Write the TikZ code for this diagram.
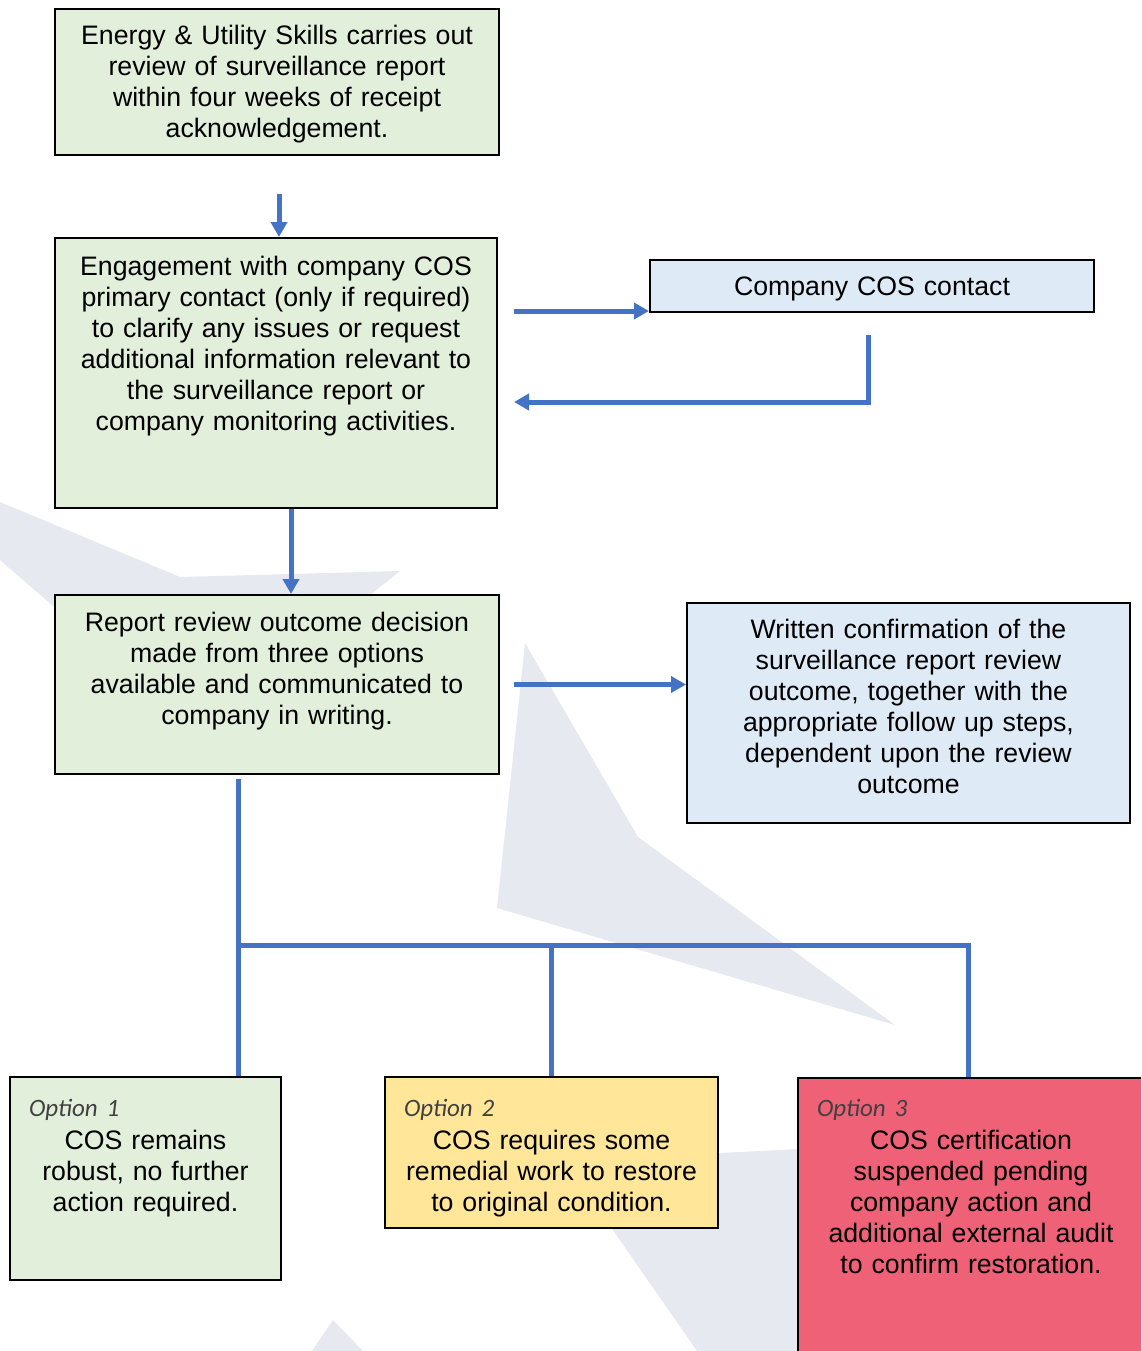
\documentclass[tikz,border=0pt]{standalone}
\usepackage{fontspec}
\setmainfont{Liberation Sans}
\newfontfamily\optionfont{Carlito}
\usetikzlibrary{arrows.meta,calc}
\definecolor{ReviewGreen}{HTML}{E2EFDA}
\definecolor{ContactBlue}{HTML}{DEEBF7}
\definecolor{OptionYellow}{HTML}{FFE699}
\definecolor{OptionRed}{HTML}{EE6177}
\definecolor{FlowBlue}{HTML}{4472C4}
\definecolor{Watermark}{HTML}{E6E9F0}
\definecolor{TagGray}{HTML}{404040}
\newcommand{\optiontag}[1]{\makebox[\linewidth][l]{\hspace*{19pt}{\fontsize{25}{31}\selectfont\optionfont\itshape\color{TagGray}Option #1}}}

\begin{document}
\begin{tikzpicture}[
    x=1pt, y=-1pt,
    font=\fontsize{26.7}{31}\selectfont,
    stage/.style={
        draw=black,
        line width=2pt,
        anchor=north,
        align=center,
        inner sep=0pt
    },
    flow/.style={-{Triangle[length=15pt,width=16pt]}, line width=5pt,
                 draw=FlowBlue},
    branch/.style={line width=5pt, draw=FlowBlue}
]
\useasboundingbox (0,0) rectangle (1141,1351);
\clip (0,0) rectangle (1141,1351);

% Watermark behind the chart
\fill[Watermark] (0,502) -- (180,577) -- (400,571) -- (364,600) -- (60,612)
    -- (0,560) -- cycle;
\fill[Watermark] (525,643) -- (638,837) -- (895,1025) -- (497,908) -- cycle;
\fill[Watermark] (580,1160) -- (820,1148) -- (820,1351) -- (697,1351)
    -- (592,1200) -- cycle;
\fill[Watermark] (312,1351) -- (333,1320) -- (363,1351) -- cycle;

% Review stages
\node[stage, fill=ReviewGreen, text width=444pt, text height=36pt,
      text depth=110pt] (intro) at (277,8)
    {Energy \& Utility Skills carries out\\review of surveillance report\\
     within four weeks of receipt\\acknowledgement.};

\node[stage, fill=ReviewGreen, text width=442pt, text height=37pt,
      text depth=233pt] (engage) at (276,237)
    {Engagement with company COS\\primary contact (only if required)\\
     to clarify any issues or request\\additional information relevant to\\
     the surveillance report or\\company monitoring activities.};

\node[stage, fill=ContactBlue, text width=444pt, text height=35pt,
      text depth=17pt] (contact) at (872,259)
    {Company COS contact};

\node[stage, fill=ReviewGreen, text width=444pt, text height=36pt,
      text depth=143pt] (decide) at (277,594)
    {Report review outcome decision\\made from three options\\
     available and communicated to\\company in writing.};

\node[stage, fill=ContactBlue, text width=443pt, text height=35pt,
      text depth=185pt] (confirm) at (908.5,602)
    {Written confirmation of the\\surveillance report review\\
     outcome, together with the\\appropriate follow up steps,\\
     dependent upon the review\\outcome};

% Outcome options
\node[stage, fill=ReviewGreen, text width=271pt, text height=39pt,
      text depth=164pt] (opt1) at (145.5,1076)
    {\optiontag{1}\\[2pt]COS remains\\robust, no further\\action required.};

\node[stage, fill=OptionYellow, text width=333pt, text height=39pt,
      text depth=112pt] (opt2) at (551.5,1076)
    {\optiontag{2}\\[2pt]COS requires some\\remedial work to restore\\
     to original condition.};

\node[stage, fill=OptionRed, text width=346pt, text height=38pt,
      text depth=245pt] (opt3) at (971,1077)
    {\optiontag{3}\\[2pt]COS certification\\suspended pending\\
     company action and\\additional external audit\\to confirm restoration.};

% Flow between stages
\coordinate (drop1) at ([xshift=2pt]intro.south);
\draw[flow, shorten <=38pt] (drop1) -- (drop1 |- engage.north);
\coordinate (ask) at ([yshift=2pt]contact.south west);
\draw[flow, shorten <=16pt] (ask -| engage.east) -- (ask);
\coordinate (reply) at ([xshift=-4pt]contact.south);
\coordinate (replyin) at ([yshift=-29pt]engage.east);
\draw[flow, shorten <=22pt, shorten >=16pt] (reply) |- (replyin);
\coordinate (drop2) at ([xshift=15pt]engage.south);
\draw[flow] (drop2) -- (drop2 |- decide.north);
\draw[flow, shorten <=14pt] (decide.east) -- (decide.east -| confirm.west);

% Branches to the three options
\coordinate (split) at (238,945);
\coordinate (opt3top) at ([xshift=-3pt]opt3.north);
\draw[branch, shorten <=4pt] (decide.south -| split) -- (opt1.north -| split);
\draw[branch] (split) -| (opt2.north);
\draw[branch] (split) -| (opt3top);

\end{tikzpicture}
\end{document}
